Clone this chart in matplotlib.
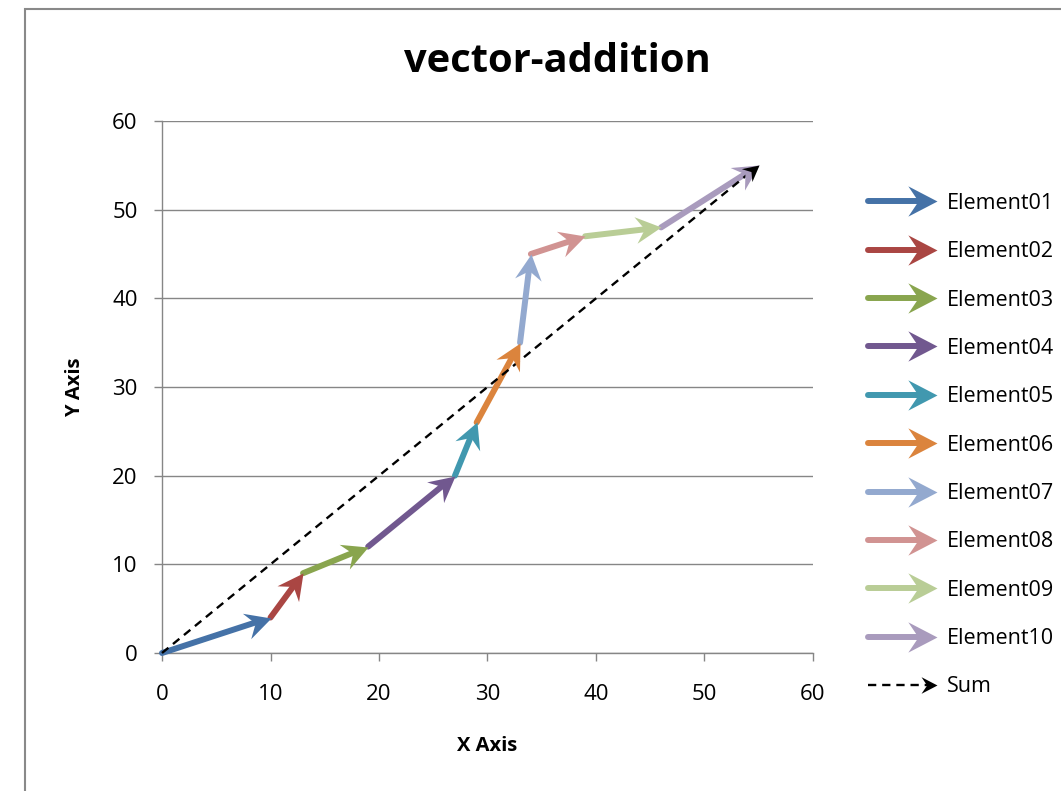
import numpy as np
import matplotlib.pyplot as plt
from matplotlib.lines import Line2D
from matplotlib.markers import MarkerStyle
from matplotlib.path import Path
from matplotlib.transforms import Affine2D
from matplotlib.legend_handler import HandlerBase
from matplotlib.patches import Rectangle

plt.rcParams['font.family'] = ['Open Sans', 'DejaVu Sans']

# vector data (start -> end)
names = ['Element01', 'Element02', 'Element03', 'Element04', 'Element05',
         'Element06', 'Element07', 'Element08', 'Element09', 'Element10']
x_start = [0, 10, 13, 19, 27, 29, 33, 34, 39, 46]
y_start = [0, 4, 9, 12, 20, 26, 35, 45, 47, 48]
x_end = [10, 13, 19, 27, 29, 33, 34, 39, 46, 55]
y_end = [4, 9, 12, 20, 26, 35, 45, 47, 48, 55]
sum_start = (0, 0)
sum_end = (55, 55)
colors = ['#4572A7', '#AA4643', '#89A54E', '#71588F', '#4198AF',
          '#DB843D', '#93A9CF', '#D19392', '#B9CD96', '#A99BBD']
ticks = [0, 10, 20, 30, 40, 50, 60]

DPI = 100
W, H = 1061, 791
GRAY = '#868686'

# barbed arrow head, tip at origin, pointing to +x
head_path = Path([(0, 0), (-1, 0.52), (-0.65, 0), (-1, -0.52), (0, 0)],
                 [Path.MOVETO, Path.LINETO, Path.LINETO, Path.LINETO, Path.CLOSEPOLY])


def head_marker(angle):
    return MarkerStyle(head_path, transform=Affine2D().rotate_deg(angle))


def draw_vector(ax, x0, y0, x1, y1, color, lw, ms, ls='-'):
    p0 = ax.transData.transform((x0, y0))
    p1 = ax.transData.transform((x1, y1))
    d = p1 - p0
    length = np.hypot(d[0], d[1])
    angle = np.degrees(np.arctan2(d[1], d[0]))
    back = 0.5 * ms * 0.5 * DPI / 72.0
    pe = p1 - d / length * back
    xe, ye = ax.transData.inverted().transform(pe)
    ax.plot([x0, xe], [y0, ye], color=color, lw=lw, ls=ls,
            solid_capstyle='round', dash_capstyle='butt', clip_on=False, zorder=3)
    ax.plot([x1], [y1], marker=head_marker(angle), ms=ms, color=color,
            mew=0, ls='none', clip_on=False, zorder=4)


class ArrowHandler(HandlerBase):
    def create_artists(self, legend, orig_handle, xdescent, ydescent,
                       width, height, fontsize, trans):
        y = (height - ydescent) / 2.0
        x0 = -xdescent
        x1 = -xdescent + width
        ms = orig_handle.get_markersize()
        back = 0.5 * ms * 0.5
        line = Line2D([x0, x1 - back], [y, y])
        line.update_from(orig_handle)
        line.set_marker('None')
        line.set_solid_capstyle('round')
        head = Line2D([x1], [y])
        head.update_from(orig_handle)
        head.set_linestyle('None')
        head.set_marker(head_marker(0))
        head.set_markeredgewidth(0)
        for a in (line, head):
            a.set_transform(trans)
        return [line, head]


fig = plt.figure(figsize=(W / DPI, H / DPI), dpi=DPI)
ax = fig.add_axes([162 / W, 1 - 653 / H, 651 / W, 532 / H])
ax.set_xlim(0, 60)
ax.set_ylim(0, 60)
ax.set_xticks(ticks)
ax.set_yticks(ticks)
ax.tick_params(axis='both', colors=GRAY, labelcolor='black', labelsize=16,
               length=5.5, width=1)
ax.tick_params(axis='x', pad=17)
ax.tick_params(axis='y', pad=12)
ax.grid(axis='y', color=GRAY, lw=1)
ax.set_axisbelow(True)
for s in ['top', 'right']:
    ax.spines[s].set_visible(False)
for s in ['left', 'bottom']:
    ax.spines[s].set_color(GRAY)
    ax.spines[s].set_linewidth(1)

for i in range(len(names)):
    draw_vector(ax, x_start[i], y_start[i], x_end[i], y_end[i], colors[i], 4.3, 37)
draw_vector(ax, sum_start[0], sum_start[1], sum_end[0], sum_end[1], 'black', 1.7, 23, ls=(0, (3.5, 2.5)))

handles = [Line2D([], [], color=c, lw=4.3, ms=42) for c in colors]
handles.append(Line2D([], [], color='black', lw=1.7, ms=23, ls=(0, (3.5, 2.5))))
fig.legend(handles, names + ['Sum'], loc='upper left',
           bbox_to_anchor=(868 / W, 1 - 193 / H), frameon=False,
           handler_map={Line2D: ArrowHandler()}, fontsize=15.5,
           handlelength=3.2, handletextpad=0.45, labelspacing=1.27,
           borderpad=0, borderaxespad=0)

fig.text(557 / W, 1 - 61 / H, 'vector-addition', ha='center', va='center',
         fontsize=28.7, fontweight='bold')
fig.text(487 / W, 1 - 746 / H, 'X Axis', ha='center', va='center',
         fontsize=14.5, fontweight='bold')
fig.text(75 / W, 1 - 387 / H, 'Y Axis', ha='center', va='center',
         fontsize=14.5, fontweight='bold', rotation=90)

fig.patches.append(Rectangle((25 / W, -0.1), 1.2, 1 - 9 / H + 0.1,
                             transform=fig.transFigure, fill=False,
                             ec='#898989', lw=1.5))

fig.savefig('out.png', dpi=DPI)
